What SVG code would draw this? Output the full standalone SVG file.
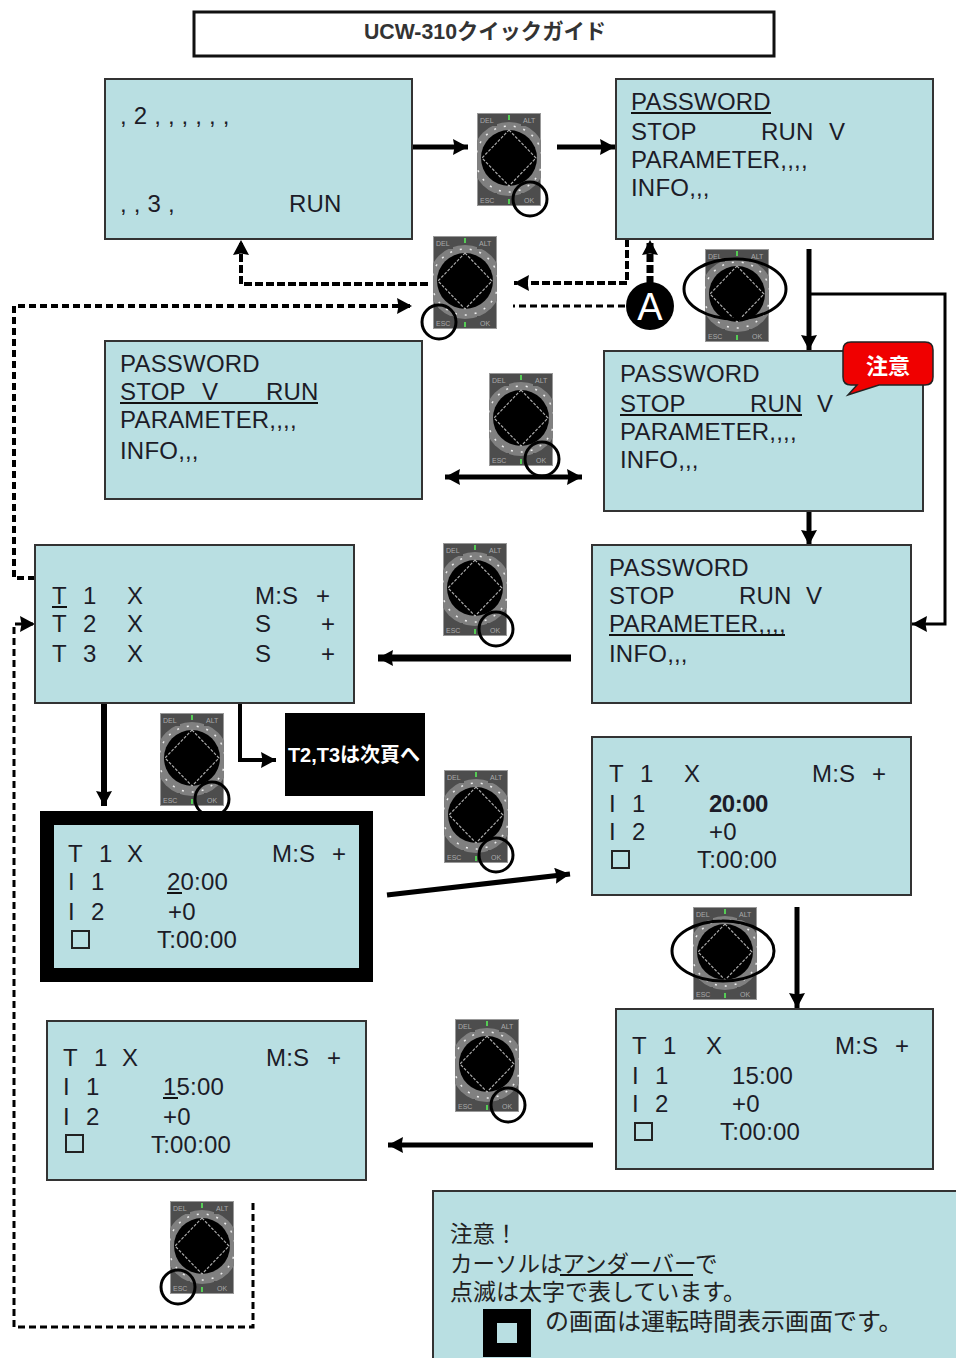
<svg xmlns="http://www.w3.org/2000/svg" xmlns:xlink="http://www.w3.org/1999/xlink" width="956" height="1358" viewBox="0 0 956 1358">
<style>
.bg{fill:#fff}
.p{fill:#b9dfe2;stroke:#333;stroke-width:2}
.t{font-family:"Liberation Sans",Arial,sans-serif;font-size:24px;letter-spacing:.2px;fill:#1c1c28}
.j{font-family:"Liberation Sans","Noto Sans CJK JP",sans-serif;font-size:22.5px;fill:#222}
.u{stroke:#111;stroke-width:2;fill:none}
.b{fill:none;stroke:#222;stroke-width:2}
.c{fill:none;stroke:#000}
.s3{stroke-width:3}.s4{stroke-width:4}.s5{stroke-width:5}.s6{stroke-width:6}.s7{stroke-width:7}
.d1{stroke-dasharray:8 3}.d2{stroke-dasharray:7 4}
.o{fill:none;stroke:#000;stroke-width:3}
.dl{font-family:"Liberation Sans",sans-serif;font-size:7px;fill:#aaa}
</style>
<defs>
<marker id="h" markerUnits="userSpaceOnUse" markerWidth="18" markerHeight="18" refX="15" refY="8" orient="auto-start-reverse"><path d="M0 0L15 8L0 16L1.5 8Z" fill="#000"/></marker>
<symbol id="dial" width="64" height="93" viewBox="0 0 64 93" overflow="hidden">
<rect x="0.5" y="0.5" width="63" height="92" fill="#4d4d4d" stroke="#999"/>
<circle cx="32" cy="46" r="37" fill="#808080"/>
<rect x="1" y="1" width="19" height="12" fill="#4d4d4d"/><rect x="44" y="1" width="19" height="12" fill="#4d4d4d"/>
<rect x="1" y="80" width="19" height="12" fill="#4d4d4d"/><rect x="44" y="80" width="19" height="12" fill="#4d4d4d"/>
<circle cx="32" cy="46" r="33" fill="none" stroke="#eee" stroke-width="1.5" stroke-dasharray="2 8"/>
<circle cx="32" cy="45" r="28" fill="#000"/>
<path d="M32 17L59 45L32 73L5 45Z" fill="#000" stroke="#aaa" stroke-width="1.2" stroke-dasharray="3 1.5"/>
<rect x="31" y="2" width="2" height="5" fill="#5c5"/><rect x="31" y="86" width="2" height="5" fill="#5c5"/>
<text class="dl" x="3" y="10">DEL</text><text class="dl" x="46" y="10">ALT</text>
<text class="dl" x="3" y="90">ESC</text><text class="dl" x="47" y="90">OK</text>
</symbol>
</defs>
<rect class="bg" width="956" height="1358"/>

<g id="title"><rect x="194" y="12" width="580" height="44" fill="#fff" stroke="#111" stroke-width="3"/>
<text x="485" y="39" text-anchor="middle" font-family="'Liberation Sans','Noto Sans CJK JP',sans-serif" font-size="21.3" font-weight="bold" fill="#333">UCW-310クイックガイド</text></g>

<g id="connectors">
<path class="c s5" d="M412 147H468" marker-end="url(#h)"/>
<path class="c s5" d="M557 147H615" marker-end="url(#h)"/>
<path class="c s7 d1" d="M650 284V240" marker-end="url(#h)"/>
<path class="c s4 d1" d="M627 239V283H514" marker-end="url(#h)"/>
<path class="c s3 d2" d="M625 306H513"/>
<path class="c s4 d1" d="M428 284H241V240" marker-end="url(#h)"/>
<path class="c s4 d2" d="M35 578H14V306H412" marker-end="url(#h)"/>
<path class="c s5" d="M809 249V350" marker-end="url(#h)"/>
<path class="c s3" d="M809 294H945V624H912" marker-end="url(#h)"/>
<path class="c s5" d="M445 477H582" marker-start="url(#h)" marker-end="url(#h)"/>
<path class="c s5" d="M809 511V545" marker-end="url(#h)"/>
<path class="c s7" d="M571 658H378" marker-end="url(#h)"/>
<path class="c s6" d="M104 703V806" marker-end="url(#h)"/>
<path class="c s4" d="M240 703V760H276" marker-end="url(#h)"/>
<path class="c s5" d="M387 895L570 874" marker-end="url(#h)"/>
<path class="c s5" d="M797 907V1008" marker-end="url(#h)"/>
<path class="c s5" d="M593 1145H388" marker-end="url(#h)"/>
<path class="c s3 d2" d="M253 1203V1327H14V624H35" marker-end="url(#h)"/>
</g>

<g id="screen1"><rect class="p" x="105" y="79" width="307" height="160"/>
<text class="t"><tspan x="120" y="124">, 2 , , , , , , </tspan><tspan x="120" y="212">, , 3 ,</tspan><tspan x="289" y="212">RUN</tspan></text></g>

<g id="screen2"><rect class="p" x="616" y="79" width="317" height="160"/>
<text class="t"><tspan x="631" y="110">PASSWORD</tspan><tspan x="631" y="140">STOP</tspan><tspan x="761" y="140">RUN</tspan><tspan x="829" y="140">V</tspan><tspan x="631" y="168">PARAMETER,,,,</tspan><tspan x="631" y="196">INFO,,,</tspan></text>
<path class="u" d="M631 113H771"/></g>

<g id="screen3"><rect class="p" x="105" y="341" width="317" height="158"/>
<text class="t"><tspan x="120" y="372">PASSWORD</tspan><tspan x="120" y="400">STOP</tspan><tspan x="202" y="400">V</tspan><tspan x="266" y="400">RUN</tspan><tspan x="120" y="428">PARAMETER,,,,</tspan><tspan x="120" y="459">INFO,,,</tspan></text>
<path class="u" d="M120 403H318"/></g>

<g id="screen4"><rect class="p" x="604" y="351" width="319" height="160"/>
<text class="t"><tspan x="620" y="382">PASSWORD</tspan><tspan x="620" y="412">STOP</tspan><tspan x="750" y="412">RUN</tspan><tspan x="817" y="412">V</tspan><tspan x="620" y="440">PARAMETER,,,,</tspan><tspan x="620" y="468">INFO,,,</tspan></text>
<path class="u" d="M620 415H802"/></g>

<g id="screen5"><rect class="p" x="592" y="545" width="319" height="158"/>
<text class="t"><tspan x="609" y="576">PASSWORD</tspan><tspan x="609" y="604">STOP</tspan><tspan x="739" y="604">RUN</tspan><tspan x="806" y="604">V</tspan><tspan x="609" y="632">PARAMETER,,,,</tspan><tspan x="609" y="662">INFO,,,</tspan></text>
<path class="u" d="M609 635H785"/></g>

<g id="screen6"><rect class="p" x="35" y="545" width="319" height="158"/>
<text class="t"><tspan x="52" y="604">T</tspan><tspan x="83" y="604">1</tspan><tspan x="127" y="604">X</tspan><tspan x="255" y="604">M:S</tspan><tspan x="316" y="604">+</tspan>
<tspan x="52" y="632">T</tspan><tspan x="83" y="632">2</tspan><tspan x="127" y="632">X</tspan><tspan x="255" y="632">S</tspan><tspan x="321" y="632">+</tspan>
<tspan x="52" y="662">T</tspan><tspan x="83" y="662">3</tspan><tspan x="127" y="662">X</tspan><tspan x="255" y="662">S</tspan><tspan x="321" y="662">+</tspan></text>
<path class="u" d="M52 607H67"/></g>

<g id="screen7"><rect class="p" x="592" y="737" width="319" height="158"/>
<text class="t"><tspan x="609" y="782">T</tspan><tspan x="640" y="782">1</tspan><tspan x="684" y="782">X</tspan><tspan x="812" y="782">M:S</tspan><tspan x="872" y="782">+</tspan>
<tspan x="609" y="812">I</tspan><tspan x="632" y="812">1</tspan><tspan x="709" y="812" font-weight="bold" letter-spacing="-.5">20:00</tspan>
<tspan x="609" y="840">I</tspan><tspan x="632" y="840">2</tspan><tspan x="709" y="840">+0</tspan><tspan x="697" y="868">T:00:00</tspan></text>
<rect class="b" x="612" y="851" width="17" height="17"/></g>

<g id="dial6"><use xlink:href="#dial" x="160" y="713"/><circle class="o" cx="212" cy="799" r="17"/></g>

<g id="screen8"><rect x="47" y="818" width="319" height="157" fill="#b9dfe2" stroke="#000" stroke-width="14"/>
<text class="t"><tspan x="68" y="862">T</tspan><tspan x="99" y="862">1</tspan><tspan x="127" y="862">X</tspan><tspan x="272" y="862">M:S</tspan><tspan x="332" y="862">+</tspan>
<tspan x="68" y="890">I</tspan><tspan x="91" y="890">1</tspan><tspan x="167" y="890">20:00</tspan>
<tspan x="68" y="920">I</tspan><tspan x="91" y="920">2</tspan><tspan x="168" y="920">+0</tspan><tspan x="157" y="948">T:00:00</tspan></text>
<path class="u" d="M167 893H182"/><rect class="b" x="72" y="931" width="17" height="17"/></g>

<g id="screen9"><rect class="p" x="47" y="1021" width="319" height="159"/>
<text class="t"><tspan x="63" y="1066">T</tspan><tspan x="94" y="1066">1</tspan><tspan x="122" y="1066">X</tspan><tspan x="266" y="1066">M:S</tspan><tspan x="327" y="1066">+</tspan>
<tspan x="63" y="1095">I</tspan><tspan x="86" y="1095">1</tspan><tspan x="163" y="1095">15:00</tspan>
<tspan x="63" y="1125">I</tspan><tspan x="86" y="1125">2</tspan><tspan x="163" y="1125">+0</tspan><tspan x="151" y="1153">T:00:00</tspan></text>
<path class="u" d="M163 1098H178"/><rect class="b" x="66" y="1135" width="17" height="17"/></g>

<g id="screen10"><rect class="p" x="616" y="1009" width="317" height="160"/>
<text class="t"><tspan x="632" y="1054">T</tspan><tspan x="663" y="1054">1</tspan><tspan x="706" y="1054">X</tspan><tspan x="835" y="1054">M:S</tspan><tspan x="895" y="1054">+</tspan>
<tspan x="632" y="1084">I</tspan><tspan x="655" y="1084">1</tspan><tspan x="732" y="1084">15:00</tspan>
<tspan x="632" y="1112">I</tspan><tspan x="655" y="1112">2</tspan><tspan x="732" y="1112">+0</tspan><tspan x="720" y="1140">T:00:00</tspan></text>
<rect class="b" x="635" y="1123" width="17" height="17"/></g>

<g id="note"><rect class="p" x="433" y="1191" width="530" height="175"/>
<text class="j"><tspan x="450" y="1242">注意！</tspan><tspan x="450" y="1272">カーソルはアンダーバーで</tspan><tspan x="450" y="1300" font-size="23">点滅は太字で表しています。</tspan><tspan x="545" y="1330" font-size="24">の画面は運転時間表示画面です。</tspan></text>
<path class="u" d="M560 1275H693"/>
<rect x="490" y="1316" width="34" height="34" fill="#b9dfe2" stroke="#000" stroke-width="14"/></g>

<g id="caution"><path d="M851 342H925Q933 342 933 350V377Q933 385 925 385H879L848 395L857 385H851Q843 385 843 377V350Q843 342 851 342Z" fill="#f00000" stroke="#222" stroke-width="1.5"/>
<text x="888" y="374" text-anchor="middle" font-family="'Noto Sans CJK JP',sans-serif" font-size="22" font-weight="bold" fill="#fff">注意</text></g>

<g id="next"><rect x="285" y="713" width="140" height="83" fill="#000"/>
<text x="354" y="762" text-anchor="middle" font-family="'Liberation Sans','Noto Sans CJK JP',sans-serif" font-size="20" font-weight="bold" fill="#fff">T2,T3は次頁へ</text></g>

<g id="markerA"><circle cx="650" cy="306" r="24" fill="#000"/>
<text x="650" y="320" text-anchor="middle" font-family="'Liberation Sans',sans-serif" font-size="38" fill="#fff">A</text></g>

<g id="dial1"><use xlink:href="#dial" x="477" y="113"/><circle class="o" cx="530" cy="199" r="17"/></g>
<g id="dial2"><use xlink:href="#dial" x="433" y="236"/><circle class="o" cx="439" cy="322" r="17"/></g>
<g id="dial3"><use xlink:href="#dial" x="705" y="249"/><ellipse class="o" cx="735" cy="289" rx="51" ry="30"/></g>
<g id="dial4"><use xlink:href="#dial" x="489" y="373"/><circle class="o" cx="542" cy="459" r="17"/></g>
<g id="dial5"><use xlink:href="#dial" x="443" y="543"/><circle class="o" cx="496" cy="629" r="17"/></g>
<g id="dial7"><use xlink:href="#dial" x="444" y="770"/><circle class="o" cx="496" cy="855" r="17"/></g>
<g id="dial8"><use xlink:href="#dial" x="693" y="907"/><ellipse class="o" cx="723" cy="951" rx="51" ry="30"/></g>
<g id="dial9"><use xlink:href="#dial" x="455" y="1019"/><circle class="o" cx="508" cy="1105" r="17"/></g>
<g id="dial10"><use xlink:href="#dial" x="170" y="1201"/><circle class="o" cx="178" cy="1287" r="17"/></g>
</svg>
